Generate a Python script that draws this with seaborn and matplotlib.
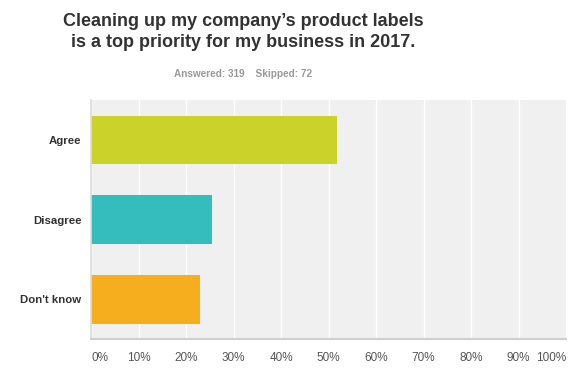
import matplotlib
matplotlib.use("Agg")
import matplotlib.pyplot as plt
import seaborn as sns
import pandas as pd

sns.set_theme(style="white")
plt.rcParams['font.family'] = ['Liberation Sans', 'DejaVu Sans']

# 数据
answers = ['Agree', 'Disagree', "Don't know"]
percents = [51.72, 25.39, 22.88]
colors = ['#cbd32b', '#35bcbd', '#f6ae1f']
ticks = [0, 10, 20, 30, 40, 50, 60, 70, 80, 90, 100]
tick_labels = ['0%', '10%', '20%', '30%', '40%', '50%', '60%', '70%', '80%', '90%', '100%']

df = pd.DataFrame({'Answer': answers, 'Percent': percents})

fig = plt.figure(figsize=(5.88, 3.84), dpi=100)
ax = fig.add_axes([0.1548, 0.117, 0.8078, 0.6226])
ax.set_facecolor('#f0f0f0')

sns.barplot(data=df, x='Percent', y='Answer', hue='Answer', palette=colors,
            order=answers, width=0.61, legend=False, ax=ax, saturation=1,
            linewidth=0)

ax.set_xlim(0, 100)
ax.set_xticks(ticks)
ax.set_xticklabels(tick_labels, color='#555555', fontsize=8.5)
labs = ax.get_xticklabels()
labs[0].set_ha('left')
labs[-1].set_ha('right')
ax.tick_params(axis='x', length=0, pad=9)
ax.tick_params(axis='y', length=0, pad=7, labelsize=8.2, labelcolor='#333333')
for t in ax.get_yticklabels():
    t.set_fontweight('bold')
ax.grid(axis='x', color='white', linewidth=1)
ax.set_axisbelow(True)
ax.set_xlabel('')
ax.set_ylabel('')
for s in ['top', 'right']:
    ax.spines[s].set_visible(False)
ax.spines['left'].set_color('#dcdcdc')
ax.spines['bottom'].set_color('#d0d0d0')
ax.spines['bottom'].set_linewidth(1.5)

fig.text(0.413, 0.917, "Cleaning up my company\u2019s product labels\nis a top priority for my business in 2017.",
         ha='center', va='center', fontsize=13, fontweight='bold', color='#333333',
         linespacing=1.35)
fig.text(0.413, 0.808, "Answered: 319    Skipped: 72", ha='center', va='center',
         fontsize=7.2, fontweight='bold', color='#999999')

fig.savefig('out.png', dpi=100)
